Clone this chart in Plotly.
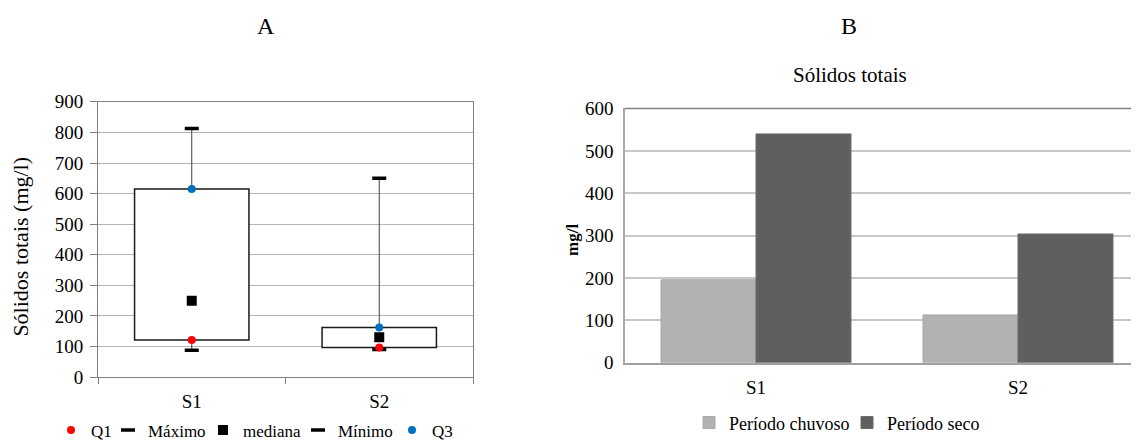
import plotly.graph_objects as go

# ---- Data ----
sites = ["S1", "S2"]
q1 = [121, 97]
q3 = [615, 162]
mediana = [250, 130]
maximo = [813, 650]
minimo = [88, 90]

bar_sites = ["S1", "S2"]
chuvoso = [196, 113]
seco = [540, 304]

left_yticks = [0, 100, 200, 300, 400, 500, 600, 700, 800, 900]
right_yticks = [0, 100, 200, 300, 400, 500, 600]

W, H = 1139, 443
FONT = "'Liberation Serif', 'Times New Roman', serif"

def px(x):
    return x / W

def py(y):
    return 1 - y / H

fig = go.Figure()

# Box bodies (Q1..Q3)
fig.add_trace(go.Bar(
    x=sites, y=[b - a for a, b in zip(q1, q3)], base=q1, width=0.61,
    marker=dict(color="white", line=dict(color="#1a1a1a", width=1.5)),
    showlegend=False, hoverinfo="skip", xaxis="x", yaxis="y"))

# Whiskers: Q3 -> max and min -> Q1
wx, wy = [], []
for s, a, b, lo, hi in zip(sites, q1, q3, minimo, maximo):
    wx += [s, s, None, s, s, None]
    wy += [b, hi, None, lo, a, None]
fig.add_trace(go.Scatter(
    x=wx, y=wy, mode="lines", line=dict(color="#404040", width=1),
    showlegend=False, hoverinfo="skip", xaxis="x", yaxis="y"))

dash_marker = dict(symbol="line-ew", size=10, color="black",
                   line=dict(color="black", width=3.5))

fig.add_trace(go.Scatter(x=sites, y=minimo, mode="markers", name="Mínimo",
                         marker=dash_marker, legendrank=4, legend="legend",
                         legendwidth=49, xaxis="x", yaxis="y"))
fig.add_trace(go.Scatter(x=sites, y=maximo, mode="markers", name="Máximo",
                         marker=dash_marker, legendrank=2, legend="legend",
                         legendwidth=50, xaxis="x", yaxis="y"))
fig.add_trace(go.Scatter(x=sites, y=mediana, mode="markers", name="mediana",
                         marker=dict(symbol="square", size=10, color="black"),
                         legendrank=3, legend="legend", legendwidth=50,
                         xaxis="x", yaxis="y"))
fig.add_trace(go.Scatter(x=sites, y=q1, mode="markers", name="Q1",
                         marker=dict(symbol="circle", size=8, color="#ff0000"),
                         legendrank=1, legend="legend", legendwidth=12,
                         xaxis="x", yaxis="y"))
fig.add_trace(go.Scatter(x=sites, y=q3, mode="markers", name="Q3",
                         marker=dict(symbol="circle", size=8, color="#0070c0"),
                         legendrank=5, legend="legend", xaxis="x", yaxis="y"))

# Right chart bars
fig.add_trace(go.Bar(x=bar_sites, y=chuvoso, name="Período chuvoso",
                     marker=dict(color="#b2b2b2", line=dict(color="#a8a8a8", width=1)),
                     legendwidth=113, xaxis="x2", yaxis="y2", legend="legend2"))
fig.add_trace(go.Bar(x=bar_sites, y=seco, name="Período seco",
                     marker=dict(color="#5f5f5f", line=dict(color="#6a6a6a", width=1)),
                     xaxis="x2", yaxis="y2", legend="legend2"))

R0 = 617  # left edge of right plot
CAT = 262  # px per category on right plot

fig.update_layout(
    width=W, height=H,
    margin=dict(l=0, r=0, t=0, b=0),
    paper_bgcolor="white", plot_bgcolor="white",
    font=dict(family=FONT, size=19, color="black"),
    barmode="group", bargap=0.275, bargroupgap=0,
    xaxis=dict(domain=[px(90), px(465)], type="category",
               categoryorder="array", categoryarray=sites,
               range=[-0.5, 1.5],
               showline=True, linecolor="#808080", linewidth=1, mirror=True,
               ticks="outside", tickson="boundaries", ticklen=6,
               tickcolor="#808080", ticklabelstandoff=7,
               showgrid=False, tickfont=dict(family=FONT, size=19)),
    yaxis=dict(domain=[py(377), py(88)], range=[0, 900],
               tickvals=left_yticks, ticks="outside", ticklen=7,
               tickcolor="#808080", showline=True, linecolor="#808080",
               mirror=True, gridcolor="#b4b4b4", gridwidth=1,
               zeroline=False, ticklabelstandoff=3,
               tickfont=dict(family=FONT, size=19)),
    xaxis2=dict(domain=[px(R0), 1], type="category",
                categoryorder="array", categoryarray=bar_sites,
                range=[-0.5, -0.5 + (W - R0) / CAT],
                anchor="y2", showline=True, linecolor="#a0a0a0", linewidth=1.5,
                ticks="", showgrid=False, ticklabelstandoff=7,
                tickfont=dict(family=FONT, size=19)),
    yaxis2=dict(domain=[py(362), py(95)], range=[0, 600],
                tickvals=right_yticks, anchor="x2",
                showline=True, linecolor="#a8a8a8", linewidth=1.5,
                gridcolor="#c8c8c8", gridwidth=1.5, zeroline=False,
                ticks="", ticklabelstandoff=6,
                tickfont=dict(family=FONT, size=19)),
    legend=dict(orientation="h", x=px(43), xanchor="left",
                y=py(433), yanchor="middle", font=dict(family=FONT, size=17),
                itemwidth=30, bgcolor="rgba(0,0,0,0)"),
    legend2=dict(orientation="h", x=px(681), xanchor="left",
                 y=py(425), yanchor="middle", font=dict(family=FONT, size=18),
                 itemwidth=30, bgcolor="rgba(0,0,0,0)"),
    shapes=[dict(type="line", xref="x2 domain", yref="y2 domain",
                 x0=0, x1=1, y0=1, y1=1,
                 line=dict(color="#808080", width=1.5))],
    annotations=[
        dict(text="A", x=px(258), y=py(8), xref="paper", yref="paper",
             xanchor="center", yanchor="middle",
             showarrow=False, font=dict(family=FONT, size=24)),
        dict(text="B", x=px(841), y=py(8), xref="paper", yref="paper",
             xanchor="center", yanchor="middle",
             showarrow=False, font=dict(family=FONT, size=24)),
        dict(text="Sólidos totais (mg/l)", x=px(13), y=py(240),
             xref="paper", yref="paper", xanchor="center", yanchor="middle",
             showarrow=False, textangle=-90,
             font=dict(family=FONT, size=22)),
        dict(text="Sólidos totais", x=px(842), y=py(60),
             xref="paper", yref="paper", xanchor="center", yanchor="middle",
             showarrow=False, font=dict(family=FONT, size=21)),
        dict(text="<b>mg/l</b>", x=px(565), y=py(233),
             xref="paper", yref="paper", xanchor="center", yanchor="middle",
             showarrow=False, textangle=-90,
             font=dict(family=FONT, size=17)),
    ],
)

fig.write_html("out.html")
